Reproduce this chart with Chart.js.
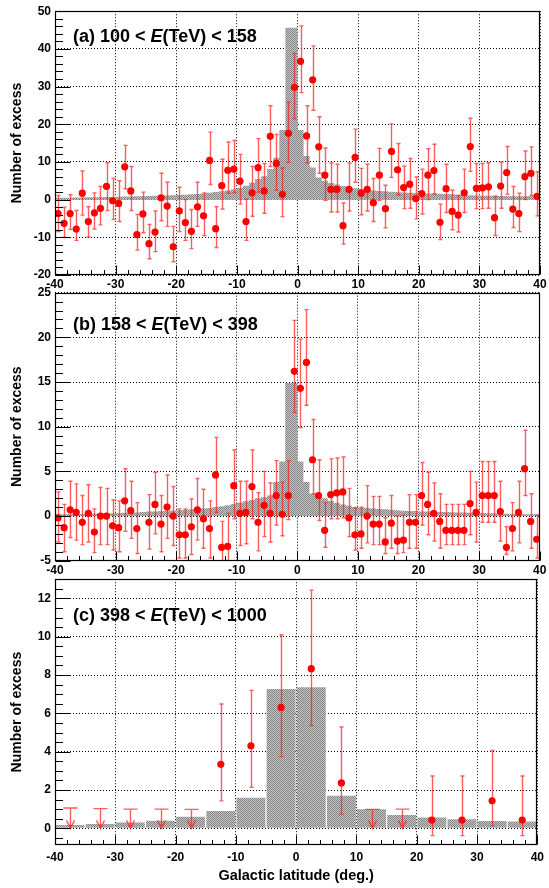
<!DOCTYPE html>
<html>
<head>
<meta charset="utf-8">
<script src="https://cdn.jsdelivr.net/npm/chart.js@4.4.1/dist/chart.umd.min.js"></script>
<style>
  html, body { margin: 0; padding: 0; background: #fff; }
  body { width: 549px; height: 888px; position: relative; overflow: hidden; }
  .panel { position: absolute; left: 0; width: 549px; }
  canvas { display: block; }
</style>
</head>
<body>
<div class="panel" style="top:0px;height:290px"><canvas id="ca" width="549" height="290"></canvas></div>
<div class="panel" style="top:280px;height:298px"><canvas id="cb" width="549" height="298"></canvas></div>
<div class="panel" style="top:568px;height:320px"><canvas id="cc" width="549" height="320"></canvas></div>
<script>
// Galactic latitude profiles of the excess, three energy bands

const FONT = "'Liberation Sans', Arial, Helvetica, sans-serif";
const xTicks = [-40, -30, -20, -10, 0, 10, 20, 30, 40];

// (a) 100 < E < 158 TeV, 1 deg bins
const aCenters = binCenters(-40, 40, 1);
const aExcess = [-3.7, -6.3, -3.7, -7.8, 1.7, -5.8, -3.5, -2.3, 3.5, -0.3,
  -1.0, 8.7, 2.3, -9.3, -3.8, -11.7, -8.6, 0.5, -1.7, -12.5,
  -3.0, -6.1, -8.4, -1.9, -4.3, 10.4, -7.7, 3.7, 7.8, 8.1,
  4.9, -5.8, 1.8, 8.5, 2.3, 16.8, 9.6, 1.4, 17.6, 29.8,
  36.7, 16.9, 31.8, 14.0, 6.5, 2.7, 2.7, -6.9, 2.7, 11.2,
  1.7, 2.7, -0.8, 6.5, -2.4, 12.8, 7.9, 3.2, 4.1, 0.3,
  1.6, 6.5, 7.7, -6.0, 2.9, -3.1, -4.1, 1.8, 14.1, 3.0,
  3.1, 3.4, -4.8, 3.6, 7.2, -2.5, -3.7, 6.1, 7.0, 0.9];
const aErrUp = [4.8, 4.3, 5.0, 4.9, 5.9, 3.9, 5.3, 5.8, 6.3, 6.0,
  6.0, 5.7, 6.5, 5.4, 5.8, 5.1, 5.6, 6.5, 6.3, 5.4,
  6.3, 6.1, 5.8, 6.5, 6.1, 7.5, 5.8, 7.0, 7.5, 7.6,
  7.1, 5.9, 7.0, 7.7, 7.3, 8.1, 7.7, 7.0, 8.3, 9.0,
  9.4, 8.0, 9.0, 8.0, 7.2, 7.0, 6.7, 6.0, 7.0, 7.5,
  6.6, 6.7, 6.4, 7.1, 6.2, 7.3, 7.0, 5.7, 6.8, 5.7,
  6.5, 7.0, 7.0, 4.8, 6.5, 5.6, 5.2, 6.3, 7.5, 6.6,
  6.5, 6.4, 5.7, 6.4, 6.9, 6.0, 5.4, 6.8, 7.0, 6.5];
const aErrDn = [4.8, 3.7, 4.2, 3.0, 5.8, 4.1, 4.3, 4.4, 6.4, 5.0,
  4.8, 5.8, 5.2, 4.1, 5.0, 4.0, 5.2, 6.1, 5.4, 4.0,
  5.5, 4.7, 4.6, 5.2, 5.2, 6.4, 5.0, 6.2, 6.1, 6.3,
  6.1, 5.0, 6.2, 6.5, 5.9, 8.0, 7.1, 5.9, 7.7, 8.3,
  8.3, 7.2, 8.1, 7.0, 6.7, 6.0, 6.0, 4.9, 5.7, 6.6,
  5.7, 5.7, 5.0, 6.7, 5.1, 6.9, 6.6, 5.6, 6.4, 5.4,
  5.4, 6.5, 6.2, 4.6, 6.3, 4.9, 4.5, 5.2, 6.6, 5.4,
  5.5, 5.7, 4.7, 5.9, 5.8, 4.9, 4.8, 6.1, 5.9, 5.2];
const aModel = [0.45, 0.47, 0.5, 0.52, 0.55, 0.57, 0.6, 0.63, 0.66, 0.7,
  0.73, 0.76, 0.8, 0.84, 0.88, 0.92, 0.96, 1.0, 1.05, 1.1,
  1.15, 1.2, 1.3, 1.4, 1.5, 1.65, 1.8, 2.0, 2.2, 2.4,
  2.7, 3.1, 3.7, 4.5, 5.5, 6.2, 8.1, 11.1, 18.5, 45.6,
  45.6, 18.5, 11.6, 8.5, 5.9, 5.0, 4.4, 4.0, 3.6, 3.2,
  3.0, 2.8, 2.6, 2.4, 2.3, 2.2, 2.1, 2.0, 1.9, 1.8,
  1.75, 1.7, 1.65, 1.6, 1.55, 1.5, 1.4, 1.3, 1.2, 1.15,
  1.1, 1.05, 1.0, 1.0, 0.95, 0.95, 0.9, 0.9, 0.9, 0.9];
const aYTicks = [-20, -10, 0, 10, 20, 30, 40, 50];

// (b) 158 < E < 398 TeV, 1 deg bins
const bCenters = binCenters(-40, 40, 1);
const bExcess = [-0.2, -1.3, 0.7, 0.4, -0.7, 0.3, -1.8, 0.0, 0.0, -1.1,
  -1.3, 1.7, 0.6, -1.4, null, -0.7, 1.3, -0.9, 1.0, 0.0,
  -2.1, -2.1, -1.2, 0.7, -0.3, -1.4, 4.6, -3.5, -3.4, 3.4,
  0.3, 0.4, 3.3, -0.7, 1.2, 0.3, 2.3, 0.2, 2.3, 16.2,
  14.3, 17.2, 6.3, 2.3, -1.6, 2.4, 2.6, 2.7, -0.2, -2.1,
  -2.0, 0.0, -0.9, -0.9, -2.9, -0.8, -2.8, -2.7, -0.7, -0.7,
  2.3, 1.3, 0.3, -0.6, -1.6, -1.6, -1.6, -1.6, 1.4, 0.4,
  2.3, 2.3, 2.3, 0.5, -3.5, -1.4, 0.4, 5.3, -0.6, -2.6];
const bErrUp = [2.9, 2.6, 3.2, 3.2, 3.0, 3.2, 2.6, 3.2, 3.1, 2.9,
  3.0, 3.6, 3.3, 2.9, null, 3.1, 3.6, 3.2, 3.6, 3.3,
  2.9, 2.9, 3.1, 3.5, 3.3, 3.1, 4.2, 2.9, 3.7, 4.0,
  3.6, 3.5, 4.1, 3.3, 3.8, 3.4, 3.9, 3.6, 3.9, 5.7,
  5.5, 5.9, 4.5, 4.0, 3.1, 4.0, 3.9, 3.9, 3.3, 3.0,
  3.0, 3.4, 3.1, 3.1, 2.7, 3.1, 2.8, 2.8, 3.1, 3.1,
  3.7, 3.6, 3.4, 3.1, 2.9, 2.9, 2.9, 2.9, 3.6, 3.4,
  3.8, 3.8, 3.8, 3.4, 2.3, 2.9, 3.5, 4.3, 3.1, 2.7];
const bErrDn = [2.7, 2.7, 3.1, 3.1, 2.5, 3.2, 2.3, 3.2, 3.2, 2.7,
  2.7, 3.4, 3.1, 2.8, null, 3.0, 3.3, 3.1, 3.5, 3.3,
  2.6, 2.6, 3.1, 3.4, 3.3, 3.3, 4.2, 2.0, 2.0, 3.7,
  3.6, 3.5, 3.6, 3.2, 3.5, 3.2, 3.3, 2.4, 2.7, 4.6,
  4.4, 4.8, 3.8, 2.8, 1.9, 2.7, 2.9, 2.9, 2.1, 1.7,
  1.6, 3.0, 2.3, 2.3, 1.3, 2.8, 1.4, 1.4, 2.9, 2.9,
  3.3, 3.4, 3.1, 3.0, 1.6, 1.6, 1.6, 1.6, 3.5, 3.3,
  3.0, 3.0, 3.0, 3.3, 0.8, 2.5, 3.4, 3.0, 3.0, 2.1];
const bModel = [0.2, 0.2, 0.2, 0.22, 0.22, 0.24, 0.25, 0.26, 0.28, 0.3,
  0.32, 0.34, 0.36, 0.38, 0.4, 0.45, 0.5, 0.52, 0.55, 0.58,
  0.62, 0.66, 0.7, 0.75, 0.8, 0.85, 0.9, 1.0, 1.1, 1.2,
  1.35, 1.5, 1.65, 1.8, 2.0, 2.1, 2.3, 3.8, 6.1, 14.9,
  14.9, 6.1, 3.8, 2.5, 2.2, 2.0, 1.7, 1.5, 1.3, 1.15,
  1.0, 0.95, 0.9, 0.85, 0.8, 0.75, 0.7, 0.65, 0.6, 0.57,
  0.55, 0.52, 0.5, 0.48, 0.46, 0.44, 0.42, 0.4, 0.4, 0.38,
  0.36, 0.34, 0.32, 0.3, 0.28, 0.26, 0.24, 0.22, 0.2, 0.2];
const bYTicks = [-5, 0, 5, 10, 15, 20, 25];

// (c) 398 < E < 1000 TeV, 5 deg bins (upper limits where no point)
const cCenters = binCenters(-40, 40, 5);
const cExcess = [null, null, null, null, null, 3.34, 4.31, 6.31, 8.33, 2.37, null, null, 0.43, 0.43, 1.44, 0.43];
const cErrUp = [null, null, null, null, null, 3.15, 2.89, 3.79, 4.10, 2.92, null, null, 2.30, 2.30, 2.63, 2.30];
const cErrDn = [null, null, null, null, null, 1.91, 2.17, 2.57, 2.97, 1.64, null, null, 0.81, 0.81, 1.30, 0.81];
const cUpper = [1.06, 1.03, 1.0, 1.0, 0.99, null, null, null, null, null, 0.99, 1.0, null, null, null, null];
const cModel = [0.17, 0.23, 0.3, 0.4, 0.6, 0.9, 1.6, 7.27, 7.36, 1.7, 1.0, 0.7, 0.56, 0.47, 0.38, 0.35];
const cYTicks = [0, 2, 4, 6, 8, 10, 12];


function binCenters(lo, hi, w) {
  const out = [];
  for (let x = lo + w / 2; x < hi; x += w) out.push(x);
  return out;
}

// step outline of a histogram: left edge of each bin + right edge of the last
function histEdges(centers, values, w) {
  const pts = centers.map((c, i) => ({ x: c - w / 2, y: values[i] }));
  pts.push({ x: centers[centers.length - 1] + w / 2, y: values[values.length - 1] });
  return pts;
}

function grayPattern(ctx) {
  const tile = document.createElement('canvas');
  tile.width = 2; tile.height = 2;
  const g = tile.getContext('2d');
  g.fillStyle = '#c4c4c4'; g.fillRect(0, 0, 2, 2);
  g.fillStyle = '#868686'; g.fillRect(0, 0, 1, 1); g.fillRect(1, 1, 1, 1);
  return ctx.createPattern(tile, 'repeat');
}

const errColor = 'rgba(255, 30, 30, 0.72)';

// error bars and upper-limit arrows
function drawErrors(chart, p) {
  const ctx = chart.ctx, a = chart.chartArea;
  const xs = chart.scales.x, ys = chart.scales.y;
  ctx.save();
  ctx.beginPath();
  ctx.rect(a.left, a.top, a.right - a.left, a.bottom - a.top);
  ctx.clip();
  ctx.strokeStyle = errColor;
  ctx.lineWidth = 1.4;
  p.centers.forEach((c, i) => {
    const px = Math.round(xs.getPixelForValue(c)) + 0.5;
    if (p.upper && p.upper[i] !== null) {
      const yl = ys.getPixelForValue(p.upper[i]);
      const y0 = ys.getPixelForValue(0);
      ctx.beginPath();
      ctx.moveTo(px - 7, yl); ctx.lineTo(px + 7, yl);
      ctx.moveTo(px, yl); ctx.lineTo(px, y0);
      ctx.moveTo(px - 4, y0 - 8); ctx.lineTo(px, y0); ctx.lineTo(px + 4, y0 - 8);
      ctx.stroke();
      return;
    }
    const v = p.excess[i];
    if (v === null) return;
    const yt = ys.getPixelForValue(v + p.errUp[i]);
    const yb = ys.getPixelForValue(v - p.errDn[i]);
    ctx.beginPath();
    ctx.moveTo(px, yt); ctx.lineTo(px, yb);
    ctx.moveTo(px - 2, yt); ctx.lineTo(px + 2, yt);
    ctx.moveTo(px - 2, yb); ctx.lineTo(px + 2, yb);
    ctx.stroke();
  });
  ctx.restore();
}

// box, inward ticks and the panel label
function drawFrame(chart, p) {
  const ctx = chart.ctx, a = chart.chartArea;
  const xs = chart.scales.x, ys = chart.scales.y;
  const L = Math.round(a.left) + 0.5, R = Math.round(a.right) - 0.5;
  const T = Math.round(a.top) + 0.5, B = Math.round(a.bottom) - 0.5;
  const isMajor = (list, v) => list.some(t => Math.abs(t - v) < 1e-6);
  ctx.save();
  ctx.strokeStyle = '#000';
  ctx.lineWidth = 1;
  ctx.beginPath();
  for (let v = Math.ceil(p.yMin / p.yMinor - 1e-9) * p.yMinor; v <= p.yMax + 1e-9; v += p.yMinor) {
    const py = Math.round(ys.getPixelForValue(v)) + 0.5;
    ctx.moveTo(L, py);
    ctx.lineTo(L + (isMajor(p.yTicks, v) ? 15 : 7.5), py);
  }
  for (let v = -40; v <= 40; v += 2) {
    const px = Math.round(xs.getPixelForValue(v)) + 0.5;
    ctx.moveTo(px, B);
    ctx.lineTo(px, B - (isMajor(xTicks, v) ? 9 : 4.5));
  }
  ctx.stroke();
  ctx.lineWidth = 1.2;
  ctx.strokeRect(L, T, R - L, B - T);

  ctx.fillStyle = '#000';
  ctx.textBaseline = 'alphabetic';
  ctx.textAlign = 'left';
  let x = a.left + 18;
  p.label.forEach(part => {
    ctx.font = (part[1] ? 'italic ' : '') + 'bold 18px ' + FONT;
    ctx.fillText(part[0], x, a.top + p.labelBase);
    x += ctx.measureText(part[0]).width;
  });
  ctx.restore();
}

function makePanel(id, p) {
  const ctx = document.getElementById(id).getContext('2d');
  const pattern = grayPattern(ctx);
  const points = p.centers.map((c, i) => ({ x: c, y: p.excess[i] }));

  const model = p.bars
    ? { type: 'bar', data: p.centers.map((c, i) => ({ x: c, y: p.model[i] })),
        backgroundColor: pattern, borderWidth: 0, barPercentage: 0.96, categoryPercentage: 1 }
    : { type: 'line', data: histEdges(p.centers, p.model, p.binWidth), stepped: 'after',
        fill: 'origin', backgroundColor: pattern, borderWidth: 0, pointRadius: 0 };

  new Chart(ctx, {
    type: 'scatter',
    data: {
      datasets: [
        { type: 'scatter', data: points, pointRadius: 3.6, pointBackgroundColor: '#ff0000',
          pointBorderWidth: 0, pointHoverRadius: 3.6 },
        model
      ]
    },
    options: {
      responsive: false,
      animation: false,
      events: [],
      layout: { padding: { top: p.padTop, right: 7, left: 0, bottom: 0 } },
      plugins: { legend: { display: false }, tooltip: { enabled: false } },
      scales: {
        x: {
          type: 'linear', min: -40, max: 40, offset: false,
          afterBuildTicks: s => { s.ticks = xTicks.map(v => ({ value: v })); },
          afterFit: s => { s.height = p.xHeight; },
          grid: { color: '#000', lineWidth: 1, drawTicks: false, offset: false },
          border: { display: false, dash: [1, 2] },
          ticks: { color: '#000', font: { family: FONT, size: 12, weight: 'bold' },
                   padding: p.xPad, autoSkip: false, maxRotation: 0 },
          title: { display: !!p.xTitle, text: 'Galactic latitude (deg.)', color: '#000',
                   font: { family: FONT, size: 14.5, weight: 'bold' }, padding: { top: 0, bottom: 3.3 } }
        },
        y: {
          type: 'linear', min: p.yMin, max: p.yMax,
          afterBuildTicks: s => { s.ticks = p.yTicks.map(v => ({ value: v })); },
          afterFit: s => { s.width = 55; },
          grid: { color: '#000', lineWidth: 1, drawTicks: false },
          border: { display: false, dash: [1, 2] },
          ticks: { color: '#000', font: { family: FONT, size: 12, weight: 'bold' }, padding: 4, autoSkip: false },
          title: { display: true, text: 'Number of excess', color: '#000',
                   font: { family: FONT, size: 14, weight: 'bold' }, padding: { top: 9, bottom: 0 } }
        }
      }
    },
    plugins: [{
      id: 'panelExtras',
      beforeDatasetDraw(chart, args) {
        if (args.index === 0) drawErrors(chart, p);
      },
      afterDraw(chart) {
        drawFrame(chart, p);
      }
    }]
  });
}

makePanel('ca', {
  centers: aCenters, excess: aExcess, errUp: aErrUp, errDn: aErrDn, model: aModel, binWidth: 1,
  yMin: -20, yMax: 50, yTicks: aYTicks, yMinor: 2,
  padTop: 9, xHeight: 15, xPad: 2.3, labelBase: 31,
  label: [['(a) 100 < ', false], ['E', true], ['(TeV) < 158', false]]
});

makePanel('cb', {
  centers: bCenters, excess: bExcess, errUp: bErrUp, errDn: bErrDn, model: bModel, binWidth: 1,
  yMin: -5, yMax: 25, yTicks: bYTicks, yMinor: 1,
  padTop: 12.7, xHeight: 17.3, xPad: 2.6, labelBase: 37.3,
  label: [['(b) 158 < ', false], ['E', true], ['(TeV) < 398', false]]
});

makePanel('cc', {
  centers: cCenters, excess: cExcess, errUp: cErrUp, errDn: cErrDn, upper: cUpper, model: cModel,
  binWidth: 5, bars: true,
  yMin: -0.87, yMax: 13, yTicks: cYTicks, yMinor: 0.5,
  padTop: 10.7, xHeight: 43, xPad: 5, labelBase: 41.3, xTitle: true,
  label: [['(c) 398 < ', false], ['E', true], ['(TeV) < 1000', false]]
});
</script>
</body>
</html>
